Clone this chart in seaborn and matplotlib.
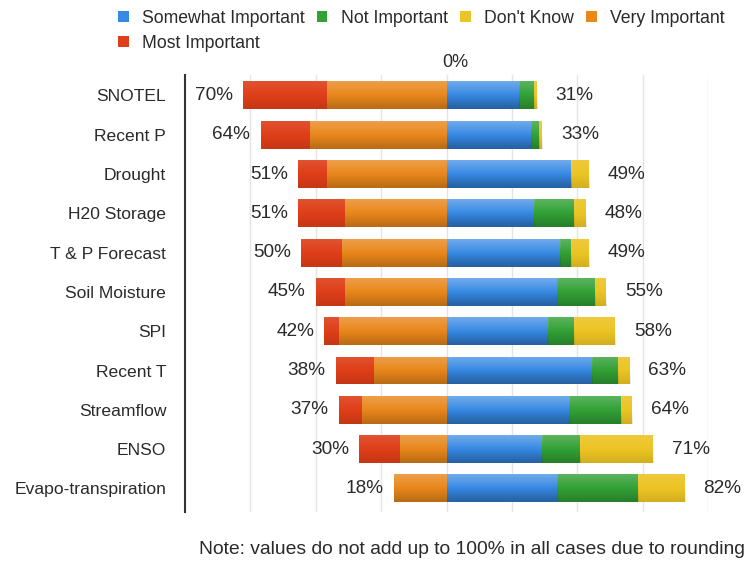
import numpy as np
import pandas as pd
import matplotlib
matplotlib.use("Agg")
import matplotlib.pyplot as plt
import seaborn as sns
from matplotlib.patches import Patch

# Survey: importance of each data product
categories = ["SNOTEL", "Recent P", "Drought", "H20 Storage", "T & P Forecast",
              "Soil Moisture", "SPI", "Recent T", "Streamflow", "ENSO",
              "Evapo-transpiration"]

most_important = [29, 17, 10, 16, 14, 10, 5, 13, 8, 14, 0]
very_important = [41, 47, 41, 35, 36, 35, 37, 25, 29, 16, 18]
somewhat_important = [25, 29, 43, 30, 39, 38, 35, 50, 42, 33, 38]
not_important = [5, 3, 0, 14, 4, 13, 9, 9, 18, 13, 28]
dont_know = [1, 1, 6, 4, 6, 4, 14, 4, 4, 25, 16]

left_totals = [70, 64, 51, 51, 50, 45, 42, 38, 37, 30, 18]
right_totals = [31, 33, 49, 48, 49, 55, 58, 63, 64, 71, 82]

colors = {
    "Somewhat Important": "#3789e4",
    "Not Important": "#32a136",
    "Don't Know": "#ecc424",
    "Very Important": "#e9871b",
    "Most Important": "#de3e18",
}

df = pd.DataFrame({
    "category": categories,
    "most": most_important,
    "very": very_important,
    "somewhat": somewhat_important,
    "not": not_important,
    "dk": dont_know,
})
# cumulative extents for the stacked segments
df["left_outer"] = -(df["most"] + df["very"])
df["left_inner"] = -df["very"]
df["right_outer"] = df["somewhat"] + df["not"] + df["dk"]
df["right_mid"] = df["somewhat"] + df["not"]
df["right_inner"] = df["somewhat"]

sns.set_style("white")
plt.rcParams["font.family"] = ["Liberation Sans", "DejaVu Sans"]

fig = plt.figure(figsize=(7.48, 5.63), dpi=100)
ax = fig.add_axes([185 / 748, 1 - 512 / 563, (708 - 185) / 748, (512 - 75) / 563])

grid_x = [-67.5, -45, -22.5, 0, 22.5, 45, 67.5, 90]
for gx in grid_x:
    ax.axvline(gx, color="#e4e4e4", lw=1.0, zorder=0)

bar_w = 0.71
layers = [
    ("left_outer", colors["Most Important"]),
    ("left_inner", colors["Very Important"]),
    ("right_outer", colors["Don't Know"]),
    ("right_mid", colors["Not Important"]),
    ("right_inner", colors["Somewhat Important"]),
]
for col, c in layers:
    sns.barplot(data=df, x=col, y="category", order=categories, orient="h",
                color=c, saturation=1, width=bar_w, errorbar=None,
                linewidth=0, ax=ax, zorder=2)

# soft top-to-bottom shading on every bar segment
shade = np.zeros((64, 1, 4))
t = np.linspace(0, 1, 64)
shade[:, 0, :3] = np.where(t[:, None] < 0.5, 1.0, 0.0)
shade[:, 0, 3] = np.abs(t - 0.5) * 0.22
for p in list(ax.patches):
    x0, y0 = p.get_x(), p.get_y()
    w, h = p.get_width(), p.get_height()
    if w == 0:
        continue
    im = ax.imshow(shade, extent=(x0, x0 + w, y0 + h, y0), aspect="auto",
                   interpolation="bilinear", zorder=3)
    im.set_clip_path(p)

# total labels on both sides
for i, (lt, rt) in enumerate(zip(left_totals, right_totals)):
    ax.annotate(f"{lt}%", xy=(-lt, i), xytext=(-7.5, 0), textcoords="offset points",
                ha="right", va="center", fontsize=13.7, color="#2a2a2a")
    ax.annotate(f"{rt}%", xy=(rt, i), xytext=(13.5, 0), textcoords="offset points",
                ha="left", va="center", fontsize=13.7, color="#2a2a2a")

ax.set_xlim(-90, 90)
ax.set_ylim(10.6, -0.52)
ax.set_xlabel("")
ax.set_ylabel("")
ax.set_xticks([])
ax.tick_params(axis="y", length=0, pad=13.5, labelsize=12.6, labelcolor="#2a2a2a")
for s in ["top", "right", "bottom"]:
    ax.spines[s].set_visible(False)
ax.spines["left"].set_color("#333333")
ax.spines["left"].set_linewidth(1.5)

ax.annotate("0%", xy=(0, 1), xycoords=("data", "axes fraction"),
            xytext=(6, 3), textcoords="offset points",
            ha="center", va="bottom", fontsize=13, color="#2a2a2a")

order = ["Somewhat Important", "Most Important", "Not Important",
         "Don't Know", "Very Important"]
handles = [Patch(facecolor=colors[k], edgecolor="none", label=k) for k in order]
fig.legend(handles=handles, loc="upper left", bbox_to_anchor=(118 / 748, 1 - 10 / 563),
           ncol=4, frameon=False, fontsize=12.7, handlelength=0.6, handleheight=0.6,
           handletextpad=0.75, columnspacing=0.7, labelspacing=0.44, borderpad=0,
           borderaxespad=0, labelcolor="#2a2a2a")

fig.text(745 / 748, 1 - 550 / 563,
         "Note: values do not add up to 100% in all cases due to rounding",
         ha="right", va="center", fontsize=13.9, color="#2a2a2a")

fig.savefig("out.png", dpi=100)
